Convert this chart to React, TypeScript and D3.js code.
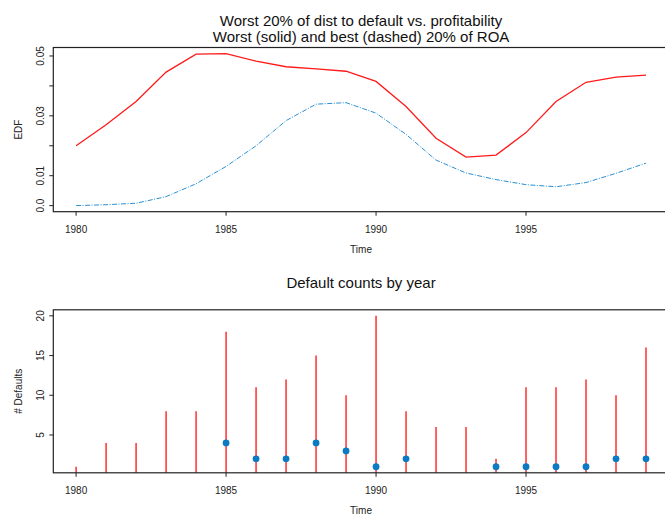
import React from 'react';
import * as d3 from 'd3';

const years = d3.range(1980, 2000);
const worstEdf = [0.0200, 0.0270, 0.0348, 0.0446, 0.0506, 0.0508, 0.0483, 0.0464, 0.0457, 0.0449,
  0.0415, 0.0331, 0.0225, 0.0162, 0.0169, 0.0244, 0.0348, 0.0412, 0.0429, 0.0436];
const bestEdf = [0.0000, 0.0003, 0.0008, 0.0030, 0.0073, 0.0131, 0.0200, 0.0284, 0.0339, 0.0344,
  0.0309, 0.0238, 0.0152, 0.0109, 0.0087, 0.0070, 0.0063, 0.0077, 0.0108, 0.0142];
const worstCounts = [1, 4, 4, 8, 8, 18, 11, 12, 15, 10, 20, 8, 6, 6, 2, 11, 11, 12, 10, 16];
const bestCounts = [0, 0, 0, 0, 0, 4, 2, 2, 4, 3, 1, 2, 0, 0, 1, 1, 1, 1, 2, 2];

const edfTicks = [0, 0.01, 0.02, 0.03, 0.04, 0.05];
const edfLabels = ['0.0', '0.01', '', '0.03', '', '0.05'];
const countTicks = [5, 10, 15, 20];
const yearTicks = [1980, 1985, 1990, 1995];

const font = 'Liberation Sans, Arial, Helvetica, sans-serif';

// R-style 4% padding around the data range
const pad = (lo: number, hi: number) => {
  const d = (hi - lo) * 0.04;
  return [lo - d, hi + d];
};

const left = 53.3;
const right = 668.8;

const x = d3.scaleLinear().domain(pad(1980, 1999)).range([left, right]);

function Panel({ top, bottom, y, yTicks, yLabels, yTitle, xLabelY, timeY, children }: any) {
  const midY = (top + bottom) / 2;
  return (
    <g>
      <g clipPath={`url(#clip${top})`}>{children}</g>
      <clipPath id={`clip${top}`}>
        <rect x={left} y={top} width={right - left} height={bottom - top} />
      </clipPath>
      <rect x={left} y={top} width={right - left} height={bottom - top} fill="none" stroke="#222" strokeWidth={1.2} />
      {yTicks.map((t: number, i: number) => (
        <g key={t}>
          <line x1={left - 4} x2={left} y1={y(t)} y2={y(t)} stroke="#222" />
          <text
            transform={`translate(43.5,${y(t)}) rotate(-90)`}
            textAnchor="middle"
            fontSize={10}
            fontFamily={font}
            fill="#222"
          >
            {yLabels[i]}
          </text>
        </g>
      ))}
      {yearTicks.map(t => (
        <g key={t}>
          <line x1={x(t)} x2={x(t)} y1={bottom} y2={bottom + 4} stroke="#222" />
          <text x={x(t)} y={xLabelY} textAnchor="middle" fontSize={10} fontFamily={font} fill="#222">
            {t}
          </text>
        </g>
      ))}
      <text x={(left + right) / 2} y={timeY} textAnchor="middle" fontSize={10} fontFamily={font} fill="#222">
        Time
      </text>
      <text
        transform={`translate(21.5,${midY}) rotate(-90)`}
        textAnchor="middle"
        fontSize={10}
        fontFamily={font}
        fill="#222"
      >
        {yTitle}
      </text>
    </g>
  );
}

export default function App() {
  const width = 665;
  const height = 515;

  // top panel
  const t0 = 47.5, t1 = 211.7;
  const yEdf = d3.scaleLinear()
    .domain(pad(d3.min(bestEdf)!, d3.max(worstEdf)!))
    .range([t1, t0]);
  const line = d3.line<number>()
    .x((d, i) => x(years[i]))
    .y(d => yEdf(d));

  // bottom panel
  const b0 = 309.8, b1 = 472.8;
  const allCounts = worstCounts.concat(bestCounts.filter(v => v > 0));
  const yCnt = d3.scaleLinear()
    .domain(pad(d3.min(allCounts)!, d3.max(allCounts)!))
    .range([b1, b0]);

  const cx = (left + right) / 2;

  return (
    <svg width={width} height={height} style={{ position: 'absolute', left: 0, top: 0, background: '#fff' }}>
      <text x={cx} y={25.5} textAnchor="middle" fontSize={15} fontFamily={font} fill="#111">
        Worst 20% of dist to default vs. profitability
      </text>
      <text x={cx} y={42} textAnchor="middle" fontSize={15} fontFamily={font} fill="#111">
        Worst (solid) and best (dashed) 20% of ROA
      </text>
      <Panel top={t0} bottom={t1} y={yEdf} yTicks={edfTicks} yLabels={edfLabels} yTitle="EDF" xLabelY={233} timeY={253}>
        <path d={line(worstEdf)!} fill="none" stroke="#ff1a1a" strokeWidth={1.3} />
        <path d={line(bestEdf)!} fill="none" stroke="#2a8fd4" strokeWidth={1} strokeDasharray="5,1.5,1,1.5" />
      </Panel>

      <text x={cx} y={288.3} textAnchor="middle" fontSize={15} fontFamily={font} fill="#111">
        Default counts by year
      </text>
      <Panel top={b0} bottom={b1} y={yCnt} yTicks={countTicks} yLabels={countTicks.map(String)} yTitle="# Defaults" xLabelY={494} timeY={514}>
        {worstCounts.map((v, i) => (
          <line key={i} x1={x(years[i])} x2={x(years[i])} y1={yCnt(0)} y2={yCnt(v)} stroke="#ff2020" strokeWidth={1.4} />
        ))}
        {bestCounts.map((v, i) =>
          v > 0 ? <circle key={i} cx={x(years[i])} cy={yCnt(v)} r={3.4} fill="#0a7bc2" /> : null
        )}
      </Panel>
    </svg>
  );
}
